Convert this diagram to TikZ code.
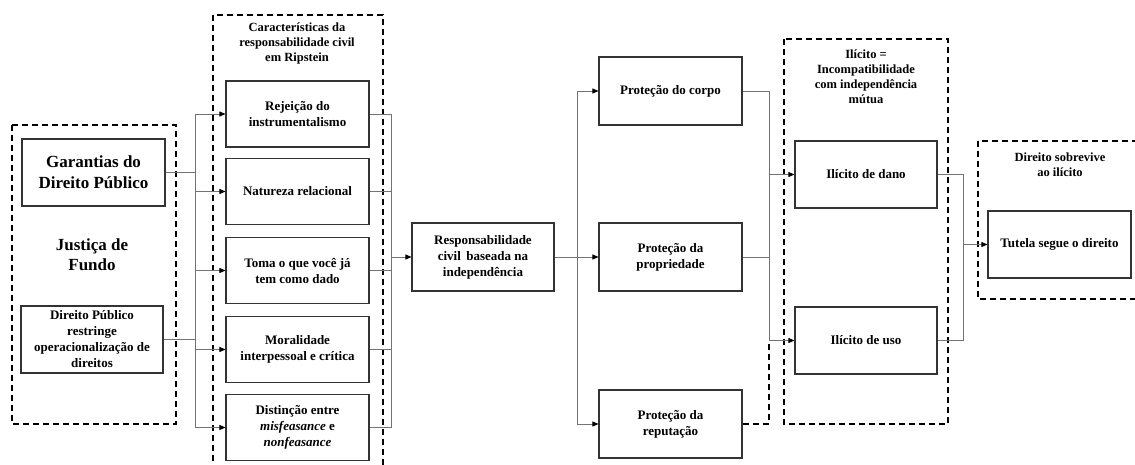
\documentclass[tikz,border=0pt]{standalone}
\usepackage{fontspec}
\setmainfont{Liberation Serif}
\usetikzlibrary{arrows.meta,calc}
\tikzset{
  box/.style={draw=black!80, line width=1.1pt, minimum width=143pt, minimum height=67pt, inner sep=2pt, align=center, font=\bfseries\fontsize{13}{16}\selectfont},
  bigbox/.style={box, font=\bfseries\fontsize{17}{21}\selectfont},
  group/.style={draw=black, line width=1.4pt, dash pattern=on 6pt off 4pt},
  ttl/.style={align=center, font=\bfseries\fontsize{12.5}{15}\selectfont, inner sep=0pt},
  conn/.style={draw=black!55, line width=0.8pt},
  arr/.style={conn, -{Triangle[length=6pt,width=5pt,color=black]}},
  dconn/.style={draw=black, line width=1.4pt, dash pattern=on 6pt off 4pt},
}
\begin{document}
\begin{tikzpicture}[x=1pt,y=-1pt]
\useasboundingbox (0,0) rectangle (1135,464);
\fill[white] (0,0) rectangle (1135,464);

% dashed groups
\draw[group] (12,125) rectangle (176,424);
\draw[group] (213,15) rectangle (383,475);
\draw[group] (784,39) rectangle (948,424);
\draw[group] (978,141) rectangle (1145,299);

% titles
\node[ttl] (t1) at (297,43) {Características da\\responsabilidade civil\\em Ripstein};
\node[ttl] (t2) at (866,77) {Ilícito =\\Incompatibilidade\\com independência\\mútua};
\node[ttl] (t3) at (1060,165) {Direito sobrevive\\ao ilícito};
\node[align=center, font=\bfseries\fontsize{17}{20}\selectfont] (jf) at (92,255) {Justiça de\\Fundo};

% left boxes
\node[bigbox, minimum width=143pt] (gar) at (93.5,172.5) {Garantias do\\Direito Público};
\node[box, minimum width=142pt] (dp) at (92,339.5) {Direito Público\\restringe\\operacionalização de\\direitos};

% characteristics
\node[box, minimum height=66pt] (r1) at (297.5,114) {Rejeição do\\instrumentalismo};
\node[box, minimum height=66pt] (r2) at (297.5,191.5) {Natureza relacional};
\node[box, minimum height=66pt] (r3) at (297.5,270.5) {Toma o que você já\\tem como dado};
\node[box, minimum height=66pt] (r4) at (297.5,349.5) {Moralidade\\interpessoal e crítica};
\node[box, minimum height=66pt] (r5) at (297.5,427.5) {Distinção entre\\\textit{misfeasance} e\\\textit{nonfeasance}};

% responsibility
\node[box, minimum width=142pt, minimum height=68pt] (resp) at (483,257) {Responsabilidade\\civil\, baseada na\\independência};

% protections
\node[box, minimum height=68pt] (p1) at (670.5,91) {Proteção do corpo};
\node[box, minimum height=68pt] (p2) at (670.5,257) {Proteção da\\propriedade};
\node[box, minimum height=68pt] (p3) at (670.5,424) {Proteção da\\reputação};

% wrongs
\node[box, minimum width=142pt] (d1) at (866,174.5) {Ilícito de dano};
\node[box, minimum width=142pt] (d2) at (866,340.5) {Ilícito de uso};

% tutela
\node[box] (tu) at (1059.5,244.5) {Tutela segue o direito};

% bus coordinates
\coordinate (bA) at (195,0);
\coordinate (bB) at (391,0);
\coordinate (bC) at (577,0);
\coordinate (bD) at (769,0);
\coordinate (bE) at (963,0);

% left -> characteristics
\draw[conn] (gar.east) -- (gar.east -| bA);
\draw[conn] (dp.east) -- (dp.east -| bA);
\draw[conn] (bA |- r1.west) -- (bA |- r5.west);
\foreach \n in {r1,r2,r3,r4,r5}{
  \draw[arr] (bA |- \n.west) -- (\n.west);
  \draw[conn] (\n.east) -- (\n.east -| bB);
}
% characteristics -> responsibility
\draw[conn] (bB |- r1.east) -- (bB |- r5.east);
\draw[arr] (bB |- resp.west) -- (resp.west);

% responsibility -> protections
\draw[conn] (resp.east) -- (resp.east -| bC);
\draw[conn] (bC |- p1.west) -- (bC |- p3.west);
\foreach \n in {p1,p2,p3}{
  \draw[arr] (bC |- \n.west) -- (\n.west);
}

% protections -> wrongs
\draw[conn] (p1.east) -- (p1.east -| bD);
\draw[conn] (p2.east) -- (p2.east -| bD);
\draw[conn] (bD |- p1.east) -- (bD |- d2.west);
\draw[dconn] (p3.east) -- (p3.east -| bD) -- (bD |- d2.west);
\draw[arr] (bD |- d1.west) -- (d1.west);
\draw[arr] (bD |- d2.west) -- (d2.west);

% wrongs -> tutela
\draw[conn] (d1.east) -- (d1.east -| bE) -- (d2.east -| bE) -- (d2.east);
\draw[arr] (bE |- tu.west) -- (tu.west);
\end{tikzpicture}
\end{document}
